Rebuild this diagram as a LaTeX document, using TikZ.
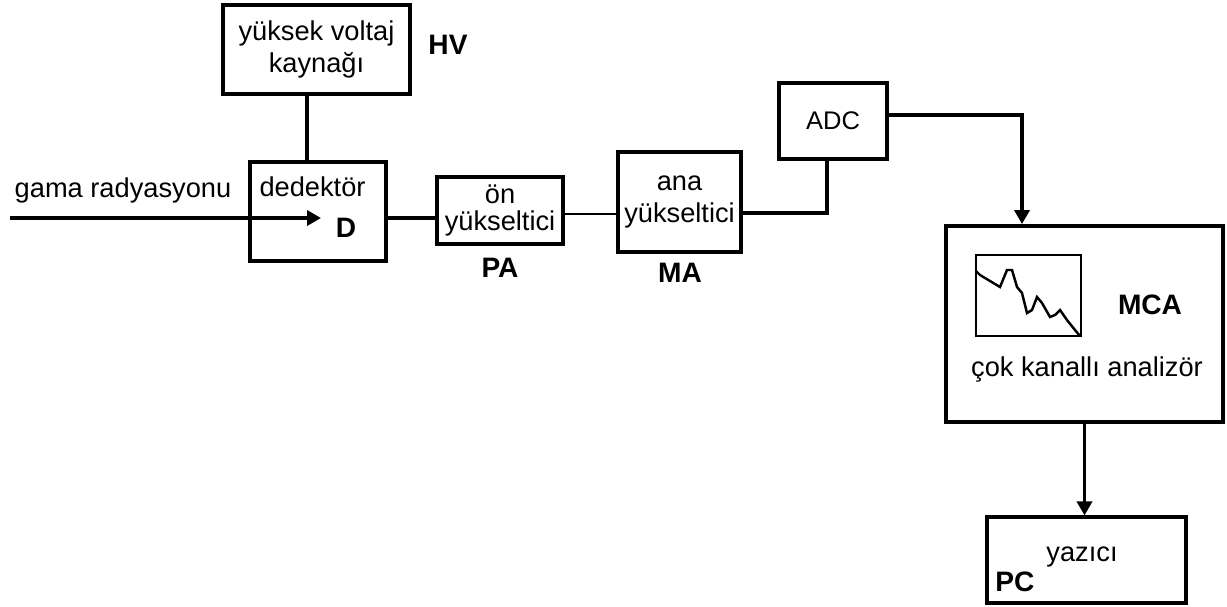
\documentclass[tikz,border=0pt]{standalone}
\usepackage{fontspec}
\setmainfont{Liberation Sans}
\usetikzlibrary{arrows.meta}
\newcommand\metin{\fontsize{15.5}{18}\selectfont}
\newcommand\etiket{\fontsize{16}{18}\selectfont\bfseries}

\begin{document}
\begin{tikzpicture}[
  blok/.style={draw,line width=1.8pt,align=center,inner sep=0pt,font=\metin},
  yazi/.style={inner sep=0pt,font=\metin},
  lbl/.style={inner sep=0pt,font=\etiket},
  hat/.style={line width=2pt},
  ok/.style={line width=2pt,-{Triangle[length=0.28cm,width=0.3cm]}}]
\useasboundingbox (0,0) rectangle (24.54,-12.12);
% high voltage and detector
\node[blok,minimum width=3.74cm,minimum height=1.78cm] (HV) at (6.33,-0.99) {yüksek voltaj\\kaynağı};
\node[lbl] (HVlbl) at (8.96,-0.9) {HV};
\node[blok,line width=2.8pt,minimum width=2.72cm,minimum height=1.98cm] (D) at (6.36,-4.23) {};
\node[yazi] (dedtxt) at (6.25,-3.74) {dedektör};
\node[lbl] (Dlbl) at (6.92,-4.56) {D};
\draw[hat] ([xshift=-0.19cm]HV.south) -- ([xshift=-0.19cm]HV.south |- D.north);
\coordinate (gin) at (0.2,-4.36);
\coordinate (gtip) at (6.42,-4.36);
\draw[ok] (gin) -- (gtip);
\node[yazi] (gama) at (2.46,-3.8) {gama radyasyonu};
% amplifiers
\node[blok,minimum width=2.52cm,minimum height=1.34cm] (PA) at (10,-4.21) {ön\\[-3pt]yükseltici};
\node[lbl] (PAlbl) at (10,-5.36) {PA};
\node[blok,minimum width=2.46cm,minimum height=2cm] (MA) at (13.59,-4.04) {ana\\yükseltici};
\node[lbl] (MAlbl) at (13.6,-5.46) {MA};
\node[blok,minimum width=2.16cm,minimum height=1.52cm,font=\fontsize{14.5}{17}\selectfont] (ADC) at (16.66,-2.42) {ADC};
\draw[hat] (D.east |- gtip) -- (PA.west |- gtip);
\draw[line width=1.3pt] ([yshift=-0.07cm]PA.east) -- ([yshift=-0.07cm]PA.east -| MA.west);
\draw[line width=2.6pt] ([yshift=-0.22cm]MA.east) -| ([xshift=-0.12cm]ADC.south);
% analyser and printer
\node[blok,line width=2.2pt,minimum width=5.54cm,minimum height=3.92cm] (MCA) at (21.69,-6.48) {};
\draw[line width=1.6pt] (19.52,-5.1) rectangle (21.62,-6.72);
\draw[line width=1.4pt] (19.52,-5.42) -- (19.6,-5.5) -- (20,-5.74) -- (20.14,-5.4) -- (20.24,-5.4)
  -- (20.34,-5.74) -- (20.44,-5.86) -- (20.54,-6.26) -- (20.64,-6.2) -- (20.74,-5.94) -- (20.84,-6.06)
  -- (21,-6.34) -- (21.1,-6.3) -- (21.2,-6.2) -- (21.34,-6.4) -- (21.5,-6.6) -- (21.6,-6.72);
\node[lbl] (MCAlbl) at (23,-6.1) {MCA};
\node[yazi] (mcatxt) at (21.74,-7.4) {çok kanallı analizör};
\node[blok,minimum width=3.98cm,minimum height=1.72cm] (PC) at (21.73,-11.2) {};
\node[lbl] (PClbl) at (20.3,-11.64) {PC};
\node[yazi] (yazici) at (21.64,-11.14) {yazıcı};
\draw[ok] ([yshift=0.12cm]ADC.east) -| ([xshift=-1.25cm]MCA.north);
\draw[ok] (MCA.south) -- (MCA.south |- PC.north);
\end{tikzpicture}
\end{document}
